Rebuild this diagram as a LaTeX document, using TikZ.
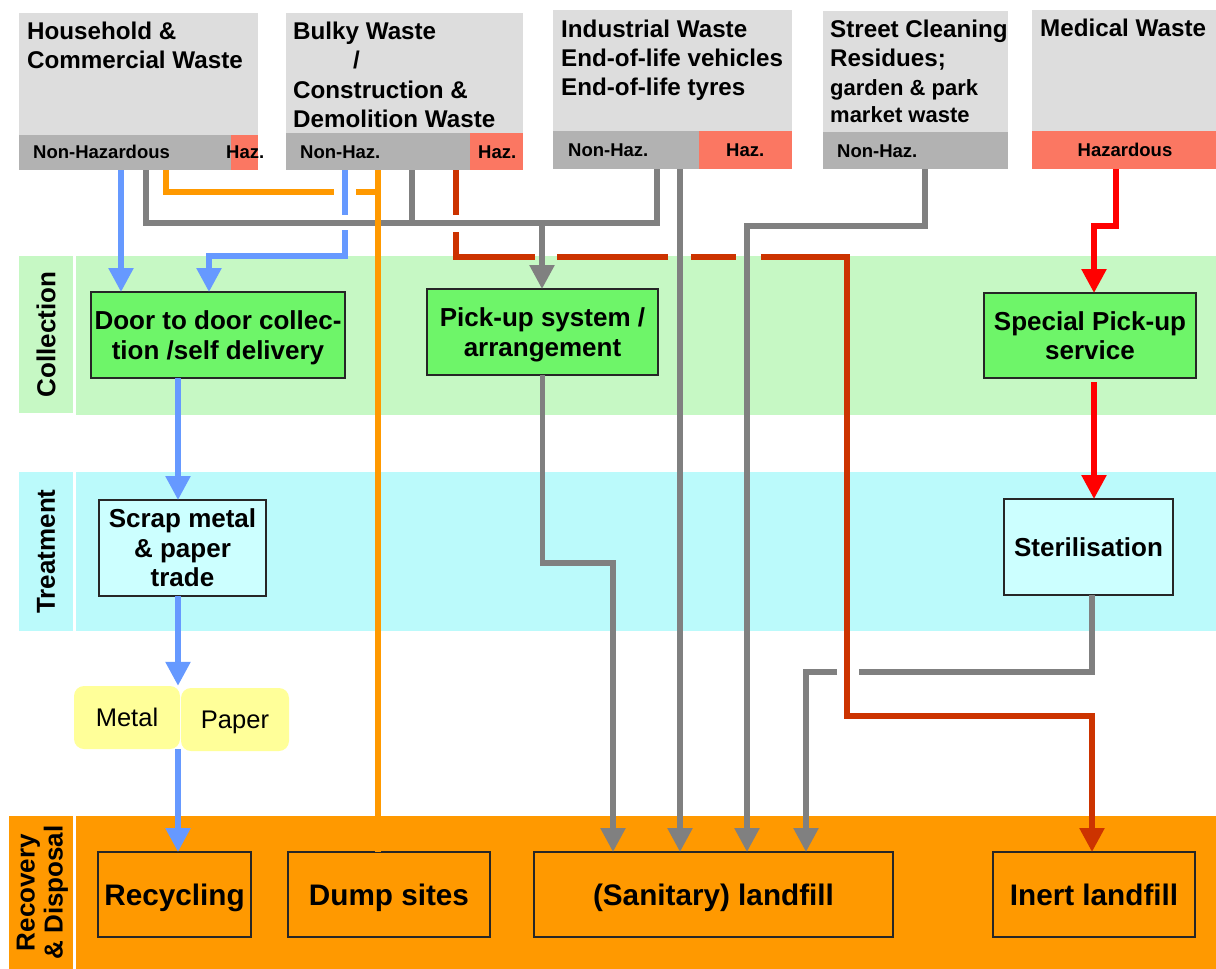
\documentclass[tikz,border=0pt]{standalone}
\usepackage{fontspec}
\setmainfont{Liberation Sans}
\usetikzlibrary{arrows.meta}

\definecolor{srcTop}{RGB}{221,221,221}
\definecolor{srcStrip}{RGB}{178,178,178}
\definecolor{hazRed}{RGB}{251,119,98}
\definecolor{laneG}{RGB}{198,248,196}
\definecolor{laneC}{RGB}{187,250,251}
\definecolor{procG}{RGB}{110,245,105}
\definecolor{procC}{RGB}{204,255,255}
\definecolor{orangeC}{RGB}{255,153,0}
\definecolor{yellowC}{RGB}{255,255,153}
\definecolor{grayL}{RGB}{128,128,128}
\definecolor{blueL}{RGB}{102,153,255}
\definecolor{darkRed}{RGB}{204,51,0}
\definecolor{redL}{RGB}{255,0,0}

\begin{document}
\begin{tikzpicture}[x=1pt,y=-1pt,
  srcbox/.style={fill=srcTop, inner sep=0pt, outer sep=0pt, anchor=north west},
  stripbox/.style={fill=srcStrip, inner sep=0pt, outer sep=0pt, anchor=north west},
  hazbox/.style={fill=hazRed, inner sep=0pt, outer sep=0pt, anchor=north west},
  srctext/.style={inner sep=0pt, anchor=north west, align=left, font=\bfseries\fontsize{24.2}{29.2}\selectfont},
  striptext/.style={inner sep=0pt, anchor=west, font=\bfseries\fontsize{18.5}{20}\selectfont},
  lane/.style={inner sep=0pt, outer sep=0pt, anchor=north west},
  lanetext/.style={rotate=90, align=center, inner sep=0pt, font=\bfseries\fontsize{26}{28}\selectfont},
  proc/.style={draw=black!85, line width=1.3pt, inner sep=0pt, outer sep=0pt, align=center, text depth=0pt, font=\bfseries\fontsize{26}{29.5}\selectfont},
  final/.style={proc, fill=orangeC, text height=22pt, font=\bfseries\fontsize{29.7}{33}\selectfont},
  tag/.style={fill=yellowC, rounded corners=10pt, inner sep=0pt, text depth=0pt, font=\fontsize{25.5}{28}\selectfont},
  flow/.style={line width=5.5pt},
  flowtip/.style={-{Triangle[length=24pt,width=24pt]}}
]
\useasboundingbox (0,0) rectangle (1216,969);
\fill[white] (0,0) rectangle (1216,969);

% ---------- swim lanes ----------
\node[lane, fill=laneG, minimum width=54pt, minimum height=157pt] (colL) at (19,256) {};
\node[lane, fill=laneG, minimum width=1140pt, minimum height=159pt] (col) at (76,256) {};
\node[lanetext] (colT) at (colL.center) {Collection};
\node[lane, fill=laneC, minimum width=54pt, minimum height=159pt] (trtL) at (19,472) {};
\node[lane, fill=laneC, minimum width=1140pt, minimum height=159pt] (trt) at (76,472) {};
\node[lanetext] (trtT) at (trtL.center) {Treatment};
\node[lane, fill=orangeC, minimum width=64pt, minimum height=153pt] (recL) at (9,816) {};
\node[lane, fill=orangeC, minimum width=1140pt, minimum height=153pt] (rec) at (76,816) {};
\node[lanetext] (recT) at ([xshift=1.5pt]recL.center) {Recovery\\\& Disposal};

% ---------- waste sources ----------
\node[srcbox, minimum width=239pt, minimum height=122pt] (hh) at (19,13) {};
\node[stripbox, minimum width=212pt, minimum height=35pt] (hhN) at (19,135) {};
\node[hazbox, minimum width=27pt, minimum height=35pt] (hhH) at (231,135) {};
\node[srctext, font=\bfseries\fontsize{24.2}{28.5}\selectfont] (hhT) at (27,22) {Household \&\\Commercial Waste};
\node[striptext] (hhNT) at (33,152) {Non-Hazardous};
\node[striptext] (hhHT) at (226,152) {Haz.};

\node[srcbox, minimum width=237pt, minimum height=120pt] (bk) at (286,13) {};
\node[stripbox, minimum width=184pt, minimum height=37pt] (bkN) at (286,133) {};
\node[hazbox, minimum width=53pt, minimum height=37pt] (bkH) at (470,133) {};
\node[srctext] (bkT) at (293,22) {Bulky Waste\\\hspace*{60pt}/\\Construction \&\\Demolition Waste};
\node[striptext] (bkNT) at (300,152) {Non-Haz.};
\node[striptext] (bkHT) at (478,152) {Haz.};

\node[srcbox, minimum width=239pt, minimum height=121pt] (ind) at (553,10) {};
\node[stripbox, minimum width=146pt, minimum height=38pt] (indN) at (553,131) {};
\node[hazbox, minimum width=93pt, minimum height=38pt] (indH) at (699,131) {};
\node[srctext] (indT) at (561,19.5) {Industrial Waste\\End-of-life vehicles\\End-of-life tyres};
\node[striptext] (indNT) at (568,150) {Non-Haz.};
\node[striptext] (indHT) at (726,150) {Haz.};

\node[srcbox, minimum width=185pt, minimum height=121pt] (st) at (823,11) {};
\node[stripbox, minimum width=185pt, minimum height=37pt] (stN) at (823,132) {};
\node[srctext] (stT) at (830,20) {Street Cleaning\\Residues;};
\node[srctext, font=\bfseries\fontsize{22}{27}\selectfont] (stT2) at (830,79.5) {garden \& park\\market waste};
\node[striptext] (stNT) at (837,151) {Non-Haz.};

\node[srcbox, minimum width=184pt, minimum height=121pt] (med) at (1032,10) {};
\node[hazbox, minimum width=184pt, minimum height=38pt] (medH) at (1032,131) {};
\node[srctext] (medT) at (1040,19) {Medical Waste};
\node[striptext, anchor=center] (medHT) at (1125,150) {Hazardous};

% ---------- process steps ----------
\node[proc, fill=procG, minimum width=254pt, minimum height=86pt] (door) at (218,335) {Door to door collec-\\tion /self delivery};
\node[proc, fill=procG, minimum width=231pt, minimum height=86pt] (pick) at (542.5,332) {Pick-up system /\\arrangement};
\node[proc, fill=procG, minimum width=212pt, minimum height=85pt] (spec) at (1090,335.5) {Special Pick-up\\service};
\node[proc, fill=procC, minimum width=167pt, minimum height=96pt] (scrap) at (182.5,548) {Scrap metal\\\& paper\\trade};
\node[proc, fill=procC, minimum width=169pt, minimum height=96pt] (ster) at (1088.5,547) {Sterilisation};
\node[tag, minimum width=106pt, minimum height=63pt] (metal) at (127,717.5) {Metal};
\node[tag, minimum width=108pt, minimum height=63pt] (paper) at (235,719.5) {Paper};
\node[final, minimum width=153pt, minimum height=85pt] (recyc) at (174.5,894.5) {Recycling};
\node[final, minimum width=202pt, minimum height=85pt] (dump) at (389,894.5) {Dump sites};
\node[final, minimum width=359pt, minimum height=85pt] (sanit) at (713.5,894.5) {(Sanitary) landfill};
\node[final, minimum width=202pt, minimum height=85pt] (inert) at (1094,894.5) {Inert landfill};

% ---------- connector anchor points ----------
\coordinate (bH) at (121,170);
\coordinate (bB) at (345,170);
\coordinate (bBj) at (345,256);
\coordinate (bIn) at (209,256);
\coordinate (bT) at (178,0);
\coordinate (oH) at (166,170);
\coordinate (oB) at (378,170);
\coordinate (gH) at (146,170);
\coordinate (gB) at (412,170);
\coordinate (gI) at (657,169);
\coordinate (gJ) at (657,223);
\coordinate (gP) at (542,223);
\coordinate (gS) at (613,563);
\coordinate (gI2) at (680,169);
\coordinate (gSt) at (925,169);
\coordinate (gSt2) at (747,226);
\coordinate (gE) at (1092,672);
\coordinate (gE2) at (806,672);
\coordinate (rB) at (456,170);
\coordinate (rT) at (847,257);
\coordinate (rD) at (847,716);
\coordinate (rI) at (1092,716);
\coordinate (mH) at (1116,169);
\coordinate (mJ) at (1116,226);
\coordinate (mS) at (1094,0);

% ---------- flows ----------
% household share joining the bulky waste on its way to the dump sites
\draw[flow, orangeC] (oH) |- (334,192);
\draw[flow, orangeC] (356,192) -- (378,192);

% door-to-door chain
\draw[flow, blueL, flowtip] (bH) -- (door.north -| bH);
\draw[flow, blueL] (bB) -- (345,215);
\draw[flow, blueL, flowtip] (345,230) -- (bBj) -| (door.north -| bIn);
\draw[flow, blueL, flowtip] (door.south -| bT) -- (scrap.north -| bT);
\draw[flow, blueL, flowtip] (scrap.south -| bT) -- (metal.north -| bT);
\draw[flow, blueL, flowtip] (metal.south -| bT) -- (recyc.north -| bT);

% bulky / construction hazardous share to inert landfill
\draw[flow, darkRed] (rB) -- (456,215);
\draw[flow, darkRed] (456,232) -- (456,257) -- (535,257);
\draw[flow, darkRed] (557,257) -- (668,257);
\draw[flow, darkRed] (691,257) -- (736,257);
\draw[flow, darkRed, flowtip] (761,257) -- (rT) -- (rD) -- (rI) -- (inert.north -| rI);

% pick-up system and landfill feeds
\draw[flow, grayL] (gH) |- (gJ) -- (gI);
\draw[flow, grayL] (gB) -- (gB |- gJ);
\draw[flow, grayL, flowtip] (gP) -- (pick.north -| gP);
\draw[flow, grayL, flowtip] (pick.south) |- (gS) -- (sanit.north -| gS);
\draw[flow, grayL, flowtip] (gI2) -- (sanit.north -| gI2);
\draw[flow, grayL, flowtip] (gSt) |- (gSt2) -- (sanit.north -| gSt2);
\draw[flow, grayL] (ster.south -| gE) -- (gE) -- (859,672);
\draw[flow, grayL, flowtip] (837,672) -- (gE2) -- (sanit.north -| gE2);

% bulky waste straight to the dump sites
\draw[flow, orangeC] (oB) -- (dump.north -| oB);

% medical waste
\draw[flow, redL, flowtip] (mH) -- (mJ) -| (spec.north -| mS);
\draw[flow, redL, flowtip] (1094,382) -- (ster.north -| mS);
\end{tikzpicture}
\end{document}
